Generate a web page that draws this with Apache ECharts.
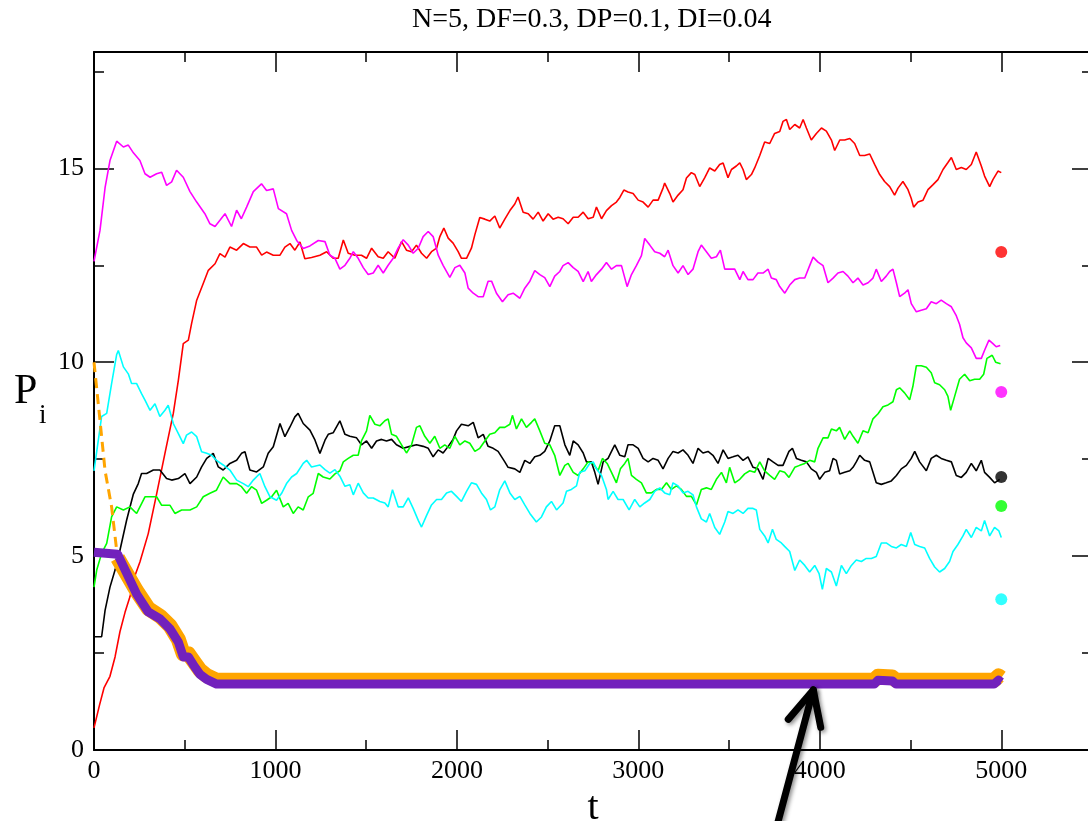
<!DOCTYPE html>
<html>
<head>
<meta charset="utf-8">
<script src="https://cdn.jsdelivr.net/npm/echarts@6/dist/echarts.min.js"></script>
<style>
html, body { margin: 0; padding: 0; background: #fff; }
#chart { width: 1088px; height: 821px; }
</style>
</head>
<body>
<div id="chart"></div>
<script>
var titleText = 'N=5, DF=0.3, DP=0.1, DI=0.04';
var xMax = 5500, xStep = 1000, xMinorStep = 500;
var yMax = 18, yStep = 5, yMinorStep = 2.5;

// [t, P]
var redPts = [[0,0.57],[30,1.15],[55,1.6],[88,1.9],[116,2.4],[143,3.05],[171,3.55],[198,3.95],[226,4.5],[253,4.85],[299,5.58],[345,6.6],[391,7.65],[437,8.68],[465,9.54],[492,10.48],[520,10.57],[538,11.0],[566,11.6],[602,12.03],[630,12.37],[667,12.54],[694,12.8],[722,12.71],[749,12.97],[786,12.89],[823,13.06],[859,12.97],[896,12.97],[924,12.76],[951,12.84],[988,12.76],[1025,12.76],[1052,12.97],[1080,13.06],[1107,12.89],[1135,13.1],[1162,12.67],[1199,12.7],[1245,12.76],
  [1282,12.85],[1318,12.68],[1346,12.68],[1374,13.15],[1401,12.81],[1438,12.76],[1474,12.76],[1502,12.68],[1530,12.94],[1566,12.72],[1594,12.68],[1621,12.85],[1658,12.68],[1695,13.11],[1722,12.89],[1750,12.85],[1777,13.02],[1805,12.81],[1833,12.68],[1860,12.85],[1888,12.94],[1906,13.24],[1928,13.46],[1952,13.2],[1979,13.07],[2007,12.85],[2025,12.68],[2053,12.68],[2080,12.94],[2099,13.29],[2126,13.73],[2154,13.69],[2181,13.64],[2209,13.77],[2236,13.46],[2264,13.69],[2292,13.91],[2319,14.08],[2337,14.26],[2365,13.87],[2393,13.83],[2420,13.69],[2448,13.87],[2475,13.64],[2503,13.83],[2530,13.69],
  [2558,13.74],[2585,13.7],[2613,13.57],[2641,13.74],[2668,13.74],[2696,13.87],[2723,13.7],[2751,13.74],[2769,14.0],[2797,13.7],[2824,13.91],[2852,14.04],[2879,14.13],[2898,14.25],[2920,14.44],[2943,14.39],[2971,14.35],[2999,14.18],[3026,14.13],[3054,14.0],[3081,14.18],[3109,14.18],[3136,14.49],[3145,14.62],[3173,14.35],[3191,14.13],[3219,14.31],[3246,14.45],[3265,14.75],[3292,14.89],[3311,14.84],[3338,14.53],[3366,14.76],[3393,15.01],[3421,14.93],[3448,15.1],[3467,15.14],[3494,14.76],[3513,14.97],[3540,15.06],[3559,15.14],[3577,14.97],[3595,14.71],[3623,14.84],[3641,15.01],[3669,15.33],[3696,15.68],[3724,15.64],[3751,15.9],[3779,15.95],
  [3797,16.21],[3816,16.26],[3834,16.0],[3862,16.13],[3889,16.04],[3908,16.26],[3926,16.04],[3953,15.73],[3981,15.9],[4009,16.04],[4036,15.96],[4064,15.73],[4082,15.46],[4110,15.73],[4137,15.73],[4165,15.77],[4192,15.64],[4220,15.33],[4247,15.33],[4275,15.37],[4302,15.1],[4330,14.84],[4357,14.66],[4385,14.53],[4412,14.31],[4431,14.49],[4458,14.66],[4486,14.45],[4504,14.22],[4517,14.0],[4541,14.13],[4569,14.18],[4596,14.45],[4624,14.58],[4651,14.71],[4679,14.97],[4706,15.15],[4725,15.28],[4752,14.97],[4780,15.02],[4807,14.97],[4835,15.1],[4862,15.42],[4890,15.06],[4908,14.8],[4936,14.53],[4954,14.71],[4982,14.93],[5000,14.89]];

var magentaPts = [[0,12.6],[5,12.63],[33,13.4],[61,14.5],[88,15.2],[125,15.7],[162,15.55],[189,15.6],[217,15.4],[253,15.2],[281,14.86],[309,14.77],[345,14.86],[373,14.9],[400,14.56],[428,14.65],[455,14.95],[492,14.77],[529,14.4],[566,14.13],[611,13.83],[639,13.57],[667,13.5],[694,13.66],[722,13.83],[758,13.5],[786,13.92],[812,13.7],[841,14.0],[878,14.4],[923,14.6],[951,14.43],[988,14.47],[1016,13.96],[1061,13.83],[1089,13.4],[1117,13.14],[1153,12.93],[1190,13.0],[1236,13.14],
  [1273,13.11],[1300,12.76],[1328,12.68],[1355,12.4],[1383,12.5],[1410,12.68],[1429,12.85],[1456,12.68],[1484,12.44],[1511,12.26],[1539,12.3],[1566,12.5],[1594,12.3],[1621,12.5],[1649,12.68],[1676,12.94],[1704,13.16],[1732,13.02],[1759,12.81],[1787,12.94],[1814,13.24],[1842,13.37],[1869,13.24],[1897,12.76],[1924,12.5],[1961,12.19],[1989,12.44],[2016,12.5],[2044,12.3],[2062,11.91],[2090,11.78],[2117,11.69],[2145,11.69],[2172,12.09],[2191,12.09],[2218,11.78],[2251,11.56],[2282,11.74],[2310,11.78],[2347,11.65],[2374,11.91],[2402,12.09],[2429,12.36],[2457,12.26],[2484,12.18],[2512,11.95],[2539,12.22],
  [2567,12.34],[2585,12.49],[2613,12.57],[2641,12.44],[2668,12.34],[2696,12.08],[2723,12.34],[2741,12.08],[2769,12.26],[2797,12.4],[2824,12.57],[2852,12.4],[2879,12.49],[2907,12.49],[2938,11.95],[2962,12.26],[2989,12.49],[3017,12.75],[3035,13.19],[3063,13.02],[3090,12.85],[3118,12.81],[3145,12.72],[3164,12.89],[3191,12.49],[3219,12.3],[3246,12.49],[3274,12.26],[3301,12.4],[3329,12.85],[3347,13.02],[3375,12.85],[3402,12.68],[3430,12.72],[3452,12.89],[3476,12.4],[3503,12.4],[3531,12.4],[3559,12.13],[3577,12.34],[3604,12.13],[3632,12.13],[3659,12.3],[3687,12.3],[3715,12.4],[3733,12.17],[3760,12.13],[3779,11.95],
  [3807,11.78],[3834,11.99],[3862,12.13],[3889,12.17],[3917,12.17],[3944,12.49],[3963,12.71],[3990,12.58],[4018,12.49],[4045,12.05],[4073,12.17],[4100,12.3],[4128,12.34],[4155,12.22],[4183,12.05],[4210,12.17],[4238,11.99],[4266,12.05],[4293,12.17],[4311,12.4],[4339,12.08],[4366,12.22],[4385,12.34],[4403,12.4],[4422,12.05],[4440,11.69],[4467,11.78],[4486,11.87],[4504,11.51],[4532,11.3],[4559,11.34],[4587,11.38],[4614,11.56],[4642,11.51],[4669,11.6],[4697,11.51],[4725,11.43],[4752,11.2],[4770,10.98],[4789,10.63],[4807,10.5],[4835,10.37],[4862,10.1],[4890,10.1],[4908,10.31],[4932,10.57],[4954,10.48],[4972,10.4],[4994,10.43]];

var blackPts = [[0,2.92],[42,2.92],[61,3.6],[88,4.2],[116,4.64],[143,5.15],[180,5.93],[217,6.6],[244,6.87],[262,7.13],[290,7.13],[327,7.22],[363,7.22],[400,7.0],[428,6.96],[465,7.0],[501,7.13],[529,6.87],[566,7.04],[593,7.3],[621,7.52],[657,7.65],[685,7.3],[712,7.22],[749,7.39],[786,7.47],[813,7.65],[832,7.69],[859,7.22],[896,7.17],[933,7.3],[960,7.65],[988,7.82],[1025,8.42],[1052,8.08],[1080,8.33],[1107,8.59],[1125,8.68],[1153,8.42],[1190,8.25],[1218,7.99],[1245,7.65],[1273,7.99],
  [1291,8.14],[1318,8.18],[1355,8.49],[1383,8.14],[1410,8.09],[1447,8.05],[1474,7.87],[1502,7.97],[1530,7.78],[1557,7.97],[1585,8.01],[1612,7.97],[1640,8.01],[1667,7.87],[1704,7.78],[1741,7.83],[1777,7.87],[1814,7.83],[1842,7.78],[1869,7.56],[1897,7.74],[1924,7.66],[1952,7.83],[1979,8.01],[1998,8.23],[2025,8.4],[2062,8.36],[2090,8.45],[2117,8.05],[2145,8.14],[2172,7.83],[2200,7.78],[2227,7.7],[2264,7.43],[2282,7.29],[2319,7.25],[2347,7.16],[2374,7.47],[2402,7.39],[2429,7.56],[2457,7.6],[2484,7.7],[2512,7.97],[2539,8.36],
  [2567,8.36],[2595,7.87],[2622,7.6],[2641,7.97],[2668,7.87],[2696,7.66],[2714,7.43],[2741,7.43],[2760,7.16],[2778,6.85],[2806,7.43],[2833,7.52],[2852,7.7],[2870,7.87],[2898,7.6],[2925,7.56],[2943,7.87],[2971,7.87],[2999,7.78],[3026,7.52],[3054,7.43],[3081,7.52],[3109,7.47],[3136,7.25],[3164,7.52],[3191,7.7],[3219,7.66],[3246,7.74],[3274,7.6],[3301,7.39],[3329,7.78],[3356,7.66],[3384,7.7],[3411,7.6],[3439,7.39],[3467,7.74],[3494,7.52],[3522,7.56],[3549,7.6],[3577,7.47],[3604,7.56],[3632,7.29],[3659,7.25],[3687,6.98],[3715,7.52],[3742,7.43],[3770,7.34],[3797,7.34],[3830,7.7],
  [3849,7.78],[3871,7.52],[3898,7.47],[3926,7.43],[3953,7.25],[3981,7.16],[3999,6.98],[4027,7.16],[4054,7.2],[4073,7.52],[4091,7.47],[4109,7.12],[4137,7.16],[4165,7.2],[4183,7.29],[4201,7.43],[4220,7.6],[4247,7.47],[4275,7.43],[4293,7.16],[4311,6.89],[4339,6.85],[4366,6.89],[4394,6.94],[4422,7.08],[4449,7.25],[4477,7.34],[4504,7.52],[4523,7.7],[4550,7.43],[4587,7.2],[4614,7.52],[4642,7.6],[4669,7.52],[4697,7.47],[4725,7.43],[4752,7.08],[4780,7.03],[4807,7.16],[4835,7.39],[4862,7.2],[4890,7.47],[4908,7.16],[4936,7.03],[4963,6.89],[4991,6.98]];

var greenPts = [[0,4.2],[15,4.64],[42,5.07],[70,5.33],[97,6.01],[125,6.27],[162,6.19],[198,6.27],[235,6.1],[281,6.53],[318,6.53],[345,6.53],[373,6.31],[419,6.31],[446,6.1],[483,6.19],[529,6.19],[566,6.27],[602,6.53],[639,6.62],[675,6.7],[712,7.04],[749,6.87],[786,6.87],[813,6.79],[841,6.62],[868,6.79],[896,6.7],[924,6.36],[951,6.44],[979,6.53],[1006,6.7],[1043,6.27],[1070,6.36],[1098,6.1],[1125,6.27],[1153,6.19],[1181,6.53],[1208,6.62],[1236,7.13],[1263,7.04],
  [1300,6.99],[1328,7.12],[1355,7.2],[1374,7.43],[1401,7.52],[1429,7.6],[1456,7.6],[1474,7.97],[1502,8.23],[1520,8.63],[1548,8.4],[1575,8.36],[1603,8.49],[1621,8.54],[1640,8.14],[1667,8.09],[1695,7.87],[1722,7.66],[1750,7.87],[1777,8.32],[1796,8.36],[1823,8.09],[1851,7.91],[1878,8.09],[1906,7.78],[1933,7.87],[1961,7.78],[1989,8.09],[2016,7.87],[2044,7.97],[2071,7.91],[2099,7.7],[2126,7.78],[2154,7.97],[2181,8.14],[2209,8.18],[2236,8.32],[2264,8.32],[2292,8.4],[2306,8.63],[2328,8.28],[2356,8.54],[2383,8.32],[2411,8.45],[2429,8.54],[2457,8.23],[2484,7.91],[2512,7.87],[2539,7.6],
  [2567,7.08],[2595,7.34],[2613,7.39],[2641,7.16],[2668,7.08],[2696,7.25],[2723,7.43],[2751,7.39],[2778,7.2],[2802,7.52],[2828,7.39],[2852,7.16],[2879,6.89],[2901,7.25],[2925,7.39],[2943,7.52],[2962,7.08],[2989,6.98],[3017,6.89],[3044,6.63],[3072,6.63],[3100,6.72],[3127,6.72],[3155,6.89],[3182,6.72],[3210,6.81],[3237,6.72],[3265,6.54],[3292,6.54],[3320,6.32],[3347,6.72],[3375,6.76],[3402,6.72],[3430,6.98],[3458,7.16],[3485,6.89],[3503,7.29],[3531,6.89],[3559,6.98],[3586,7.12],[3614,7.2],[3641,7.16],[3669,7.43],[3696,7.2],[3724,7.08],[3751,6.98],[3779,7.2],[3806,7.16],[3830,7.03],
  [3862,7.29],[3889,7.34],[3917,7.39],[3944,7.47],[3972,7.43],[3990,7.78],[4018,8.05],[4045,8.05],[4064,8.28],[4091,8.23],[4109,8.32],[4137,8.01],[4165,8.23],[4183,8.09],[4210,7.91],[4238,8.23],[4266,8.18],[4293,8.54],[4321,8.67],[4348,8.85],[4376,8.9],[4403,8.98],[4422,9.29],[4440,9.34],[4467,9.21],[4495,9.03],[4513,9.38],[4532,9.91],[4559,9.91],[4587,9.87],[4614,9.73],[4633,9.47],[4660,9.42],[4688,9.29],[4706,9.12],[4721,8.76],[4743,9.12],[4770,9.56],[4798,9.69],[4826,9.52],[4853,9.56],[4881,9.56],[4903,9.69],[4921,10.1],[4950,10.18],[4969,10.0],[4996,9.96]];

var cyanPts = [[0,7.2],[6,7.2],[24,8.0],[42,8.6],[70,8.68],[97,9.45],[125,10.2],[134,10.3],[162,9.88],[189,9.7],[207,9.45],[235,9.45],[262,9.19],[281,9.02],[309,8.76],[336,8.93],[363,8.6],[391,8.76],[409,8.89],[437,8.42],[465,8.16],[492,7.9],[510,8.12],[538,8.2],[566,8.08],[593,7.69],[621,7.65],[648,7.6],[675,7.47],[712,7.35],[749,7.22],[786,6.96],[823,6.87],[850,6.79],[878,6.96],[914,7.13],[942,6.79],[970,6.53],[1006,6.44],[1034,6.62],[1061,6.87],[1089,7.04],[1117,7.13],[1153,7.39],[1172,7.47],[1199,7.3],[1245,7.35],
  [1273,7.23],[1300,7.14],[1328,7.23],[1355,7.06],[1383,6.8],[1410,6.84],[1429,6.58],[1456,6.88],[1484,6.63],[1511,6.5],[1539,6.5],[1575,6.41],[1603,6.37],[1621,6.27],[1645,6.71],[1676,6.27],[1704,6.27],[1732,6.5],[1759,6.23],[1787,5.92],[1805,5.75],[1833,6.05],[1860,6.32],[1888,6.46],[1915,6.46],[1943,6.63],[1970,6.67],[1998,6.54],[2025,6.41],[2053,6.67],[2080,6.89],[2108,6.85],[2135,6.63],[2163,6.46],[2185,6.19],[2209,6.27],[2236,6.71],[2264,6.94],[2292,6.63],[2319,6.46],[2347,6.54],[2374,6.32],[2402,6.1],[2438,5.88],[2466,6.01],[2493,6.27],[2521,6.41],[2549,6.19],
  [2585,6.37],[2604,6.67],[2631,6.72],[2659,6.81],[2677,7.16],[2705,7.2],[2732,7.39],[2751,7.43],[2769,7.25],[2797,7.08],[2824,6.72],[2833,6.46],[2861,6.67],[2888,6.46],[2916,6.46],[2949,6.19],[2980,6.46],[3008,6.27],[3035,6.37],[3063,6.46],[3090,6.67],[3118,6.76],[3145,6.63],[3173,6.58],[3191,6.89],[3219,6.81],[3246,6.63],[3274,6.67],[3301,6.58],[3320,6.27],[3347,5.96],[3375,5.88],[3393,6.1],[3421,5.74],[3448,5.56],[3476,5.88],[3494,6.15],[3522,6.1],[3549,6.19],[3577,6.1],[3604,6.23],[3632,6.23],[3650,6.19],[3669,5.69],[3696,5.52],[3715,5.34],[3739,5.69],[3760,5.43],[3788,5.34],[3806,5.25],
  [3834,5.12],[3862,4.63],[3889,4.9],[3917,4.76],[3944,4.59],[3972,4.76],[3996,4.55],[4014,4.14],[4036,4.68],[4064,4.59],[4091,4.23],[4119,4.76],[4146,4.55],[4174,4.76],[4201,4.9],[4229,4.86],[4256,4.94],[4284,4.94],[4311,4.99],[4339,5.34],[4366,5.34],[4394,5.25],[4422,5.21],[4449,5.3],[4477,5.25],[4501,5.61],[4523,5.3],[4550,5.25],[4578,5.21],[4605,4.94],[4633,4.72],[4660,4.59],[4688,4.68],[4715,4.86],[4734,5.12],[4761,5.3],[4789,5.52],[4807,5.69],[4835,5.48],[4862,5.74],[4890,5.65],[4908,5.92],[4936,5.52],[4963,5.74],[4987,5.65],[5000,5.48]];

var orangeDash = [[0,10.0],[33,8.5],[61,7.2],[97,6.27],[125,5.15],[150,4.7]];
var orangeBand = [[130,4.95],[235,4.1],[299,3.65],[364,3.45],[419,3.2],[465,2.85],[492,2.48],[520,2.48],[547,2.3],[584,2.06],[621,1.92],[676,1.8],[4300,1.8],[4320,1.9],[4400,1.88],[4420,1.8],[4960,1.8],[4985,1.91],[5000,1.86]];
var purpleBand = [[0,5.1],[130,5.05],[235,4.02],[299,3.56],[364,3.38],[419,3.12],[465,2.78],[492,2.4],[520,2.4],[547,2.2],[584,1.95],[621,1.82],[676,1.7],[4300,1.7],[4320,1.8],[4400,1.78],[4420,1.7],[4960,1.7],[4985,1.8],[5000,1.75]];

// markers at t=5000 on the right
var endT = 5000;
var endValues = [12.84, 9.23, 7.04, 6.29, 3.89];
var endColors = ['#ff0000', '#ff00ff', '#000000', '#00ff00', '#00ffff'];

// annotation arrow, in data units
var arrowShaft = [[3768, -1.88], [3964, 1.55]];
var arrowHead = [[3826, 0.79], [3964, 1.55], [4005, 0.585]];

var serif = '"Liberation Serif", "Times New Roman", serif';

function xAxisOf(pos, step, len, showLabel) {
    return {
        type: 'value', position: pos, min: 0, max: xMax, interval: step,
        axisLine: { show: len > 10, onZero: false, lineStyle: { color: '#000', width: 2 } },
        axisTick: { inside: true, length: len, lineStyle: { color: '#000', width: 1.5 } },
        axisLabel: {
            show: showLabel, margin: 8, color: '#000', fontFamily: serif, fontSize: 26,
            formatter: function (v) { return v % xStep === 0 ? String(v) : ''; }
        },
        splitLine: { show: false }
    };
}
function yAxisOf(pos, step, len, showLabel) {
    return {
        type: 'value', position: pos, min: 0, max: yMax, interval: step,
        axisLine: { show: len > 10, onZero: false, lineStyle: { color: '#000', width: 2 } },
        axisTick: { inside: true, length: len, lineStyle: { color: '#000', width: 1.5 } },
        axisLabel: {
            show: showLabel, margin: 10, color: '#000', fontFamily: serif, fontSize: 26,
            formatter: function (v) { return v % yStep === 0 ? String(v) : ''; }
        },
        splitLine: { show: false }
    };
}
function walk(data, color) {
    return {
        type: 'line', data: data, showSymbol: false, animation: false,
        lineStyle: { color: color, width: 1.6 }
    };
}

var xAxes = [xAxisOf('bottom', xStep, 20, true), xAxisOf('bottom', xMinorStep, 10, false),
    xAxisOf('top', xStep, 20, false), xAxisOf('top', xMinorStep, 10, false)];
xAxes[0].name = 't';
xAxes[0].nameLocation = 'middle';
xAxes[0].nameGap = 29;
xAxes[0].nameTextStyle = { color: '#000', fontFamily: serif, fontSize: 40 };

var option = {
    backgroundColor: '#fff',
    animation: false,
    title: {
        text: titleText, left: 412, top: 6, padding: 0,
        textStyle: { color: '#000', fontFamily: serif, fontSize: 28, fontWeight: 'normal' }
    },
    grid: { left: 94, top: 52, width: 998, height: 698, containLabel: false, outerBoundsMode: 'none' },
    xAxis: xAxes,
    yAxis: [yAxisOf('left', yStep, 20, true), yAxisOf('left', yMinorStep, 10, false),
        yAxisOf('right', yStep, 20, false), yAxisOf('right', yMinorStep, 10, false)],
    series: [
        walk(redPts, '#ff0000'),
        walk(magentaPts, '#ff00ff'),
        walk(blackPts, '#000000'),
        walk(greenPts, '#00ff00'),
        walk(cyanPts, '#00ffff'),
        {
            type: 'line', data: orangeDash, showSymbol: false,
            lineStyle: { color: '#ffa500', width: 3, type: [10, 6] }
        },
        {
            type: 'line', data: orangeBand, showSymbol: false,
            lineStyle: { color: '#ffa500', width: 15, join: 'round' }
        },
        {
            type: 'line', data: purpleBand, showSymbol: false,
            lineStyle: { color: '#7221bc', width: 9, join: 'round' }
        },
        {
            type: 'scatter', symbolSize: 12,
            data: endValues.map(function (v, i) {
                return { value: [endT, v], itemStyle: { color: endColors[i] } };
            })
        }
    ]
};

var chart = echarts.init(document.getElementById('chart'), null, { renderer: 'canvas' });
chart.setOption(option);

// arrow + axis name P_i drawn on top
function toPx(p) {
    return chart.convertToPixel({ xAxisIndex: 0, yAxisIndex: 0 }, p);
}
var arrowStyle = {
    stroke: '#000', lineWidth: 7, lineCap: 'round', lineJoin: 'round', fill: null,
    shadowBlur: 4, shadowColor: 'rgba(0,0,0,0.45)', shadowOffsetX: 2, shadowOffsetY: 2
};
chart.setOption({
    graphic: [
        { type: 'polyline', z: 100, shape: { points: arrowShaft.map(toPx) }, style: arrowStyle },
        { type: 'polyline', z: 100, shape: { points: arrowHead.map(toPx) }, style: arrowStyle },
        { type: 'text', left: 14, top: 371, style: { text: 'P', fill: '#000', font: '42px ' + serif } },
        { type: 'text', left: 39, top: 402, style: { text: 'i', fill: '#000', font: '27px ' + serif } }
    ]
});
</script>
</body>
</html>
